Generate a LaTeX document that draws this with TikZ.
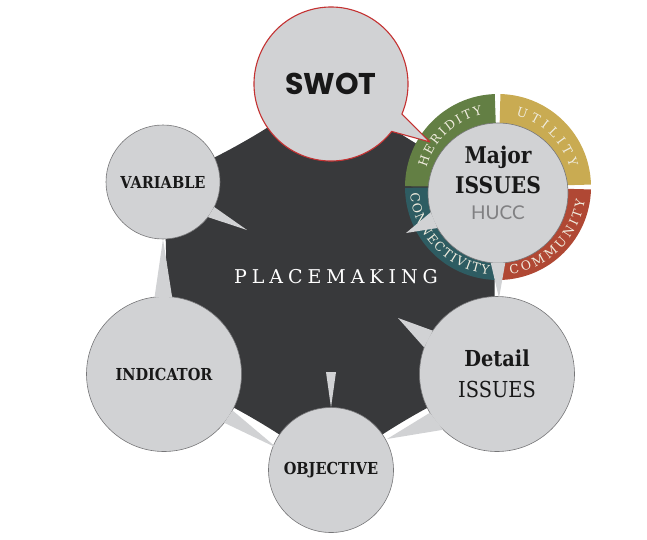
\documentclass[tikz,border=0pt]{standalone}
\usepackage{fontspec}
\setmainfont{DejaVu Serif}
\newfontfamily\slabfont[FakeStretch=0.88]{DejaVu Serif}
\newfontfamily\placefont[LetterSpace=26]{DejaVu Serif}
\newfontfamily\geofont{Poppins}
\newfontfamily\thinfont{Lato}
\usetikzlibrary{calc, positioning, decorations.text}
\definecolor{hexdark}{RGB}{56,57,59}
\definecolor{bubblegray}{RGB}{209,210,212}
\definecolor{rimgray}{RGB}{118,118,120}
\definecolor{swotred}{RGB}{196,50,50}
\definecolor{ringgreen}{RGB}{99,127,68}
\definecolor{ringyellow}{RGB}{201,171,82}
\definecolor{ringred}{RGB}{176,72,52}
\definecolor{ringteal}{RGB}{46,92,98}
\definecolor{ringtext}{RGB}{240,236,222}
\definecolor{huccgray}{RGB}{128,128,130}
\definecolor{inkblack}{RGB}{24,24,24}
\newcommand\ringfont{\fontsize{12.5}{12.5}\selectfont\color{ringtext}}
\tikzset{
  bubble/.style={circle,fill=bubblegray,draw=rimgray,line width=0.6pt,inner sep=0pt,outer sep=0pt,
    text=inkblack,font=\slabfont\bfseries\fontsize{16.5}{19}\selectfont},
  tail/.style={fill=bubblegray},
  swotrim/.style={fill=bubblegray,draw=swotred,line width=1.1pt,line join=round},
  ringlabel/.style={decorate,decoration={text along path,text align={fit to path},text={|\ringfont|#1}}}
}

\begin{document}
\begin{tikzpicture}[x=1pt,y=1pt]
  \useasboundingbox (0,0) rectangle (647,-539);
  \coordinate (cvar) at (163,-182);
  \coordinate (cswot) at (331,-84);
  \coordinate (cmajor) at (498,-193);
  \coordinate (cring) at (498,-187);
  \coordinate (cdet) at (497,-374);
  \coordinate (cobj) at (331,-470);
  \coordinate (cind) at (164,-374);
  \fill[hexdark] (cvar) to[bend right=6] (cswot) to[bend right=6] (cring) to[bend right=3] (cdet)
    to[bend right=6] (cobj) to[bend right=6] (cind) to[bend right=3] cycle;
  \fill[ringyellow] (cring) -- ++(1.5:93pt) arc[start angle=1.5, end angle=88.5, radius=93pt] -- cycle;
  \fill[ringgreen] (cring) -- ++(92:93pt) arc[start angle=92, end angle=179.5, radius=93pt] -- cycle;
  \fill[ringteal] (cring) -- ++(180.5:93pt) arc[start angle=180.5, end angle=268, radius=93pt] -- cycle;
  \fill[ringred] (cring) -- ++(272:93pt) arc[start angle=272, end angle=358.5, radius=93pt] -- cycle;
  \node[bubble, minimum size=140pt] (major) at (cmajor) {};
  \path[ringlabel={HERIDITY}] ($(cring)+(165:74pt)$) arc[start angle=165, end angle=102, radius=74pt];
  \path[ringlabel={UTILITY}] ($(cring)+(76:74pt)$) arc[start angle=76, end angle=15, radius=74pt];
  \path[ringlabel={COMMUNITY}] ($(cring)+(-82:88pt)$) arc[start angle=-82, end angle=-9, radius=88pt];
  \path[ringlabel={CONNECTIVITY}] ($(cring)+(184:88pt)$) arc[start angle=184, end angle=264, radius=88pt];
  \node[align=center, text=inkblack, font=\slabfont\bfseries\fontsize{23}{30}\selectfont] (majorlbl) at ($(cmajor)+(0,10.5)$)
    {Major\\ISSUES\\[-4pt]{\thinfont\mdseries\color{huccgray}\fontsize{19}{26}\selectfont HUCC}};
  \node[bubble, minimum size=114pt] (var) at (cvar) {VARIABLE};
  \node[bubble, minimum size=155pt] (ind) at (cind) {INDICATOR};
  \node[bubble, minimum size=125pt] (obj) at (cobj) {OBJECTIVE};
  \node[bubble, minimum size=155pt, align=center, font=\slabfont\fontsize{22}{31}\selectfont] (det) at (cdet)
    {{\bfseries Detail}\\ISSUES};
  \coordinate (vartip) at (247,-230);
  \coordinate (majortip) at (406,-233);
  \coordinate (majordown) at (499,-298);
  \coordinate (dettip) at (398,-318);
  \coordinate (detobj) at (387,-439);
  \coordinate (spikeL) at (326,-372);
  \coordinate (spikeR) at (336,-372);
  \coordinate (indobj) at (277,-448);
  \coordinate (swottip) at (430,-142);
  \fill[tail] (var.-26) -- (vartip) -- (var.-38) -- cycle;
  \fill[tail] (major.196) -- (majortip) -- (major.210) -- cycle;
  \fill[tail] (major.264) -- (majordown) -- (major.276) -- cycle;
  \fill[tail] (det.146) -- (dettip) -- (det.160) -- cycle;
  \fill[tail] (det.210) -- (detobj) -- (det.226) -- cycle;
  \fill[tail] (spikeL) -- (spikeR) -- (obj.north) -- cycle;
  \fill[tail] (ind.84) -- (var.south) -- (ind.97) -- cycle;
  \fill[tail] (ind.-28) -- (indobj) -- (ind.-39) -- cycle;
  \filldraw[swotrim] (swottip) -- ($(cswot)+(-23:77pt)$) arc[start angle=-23, end angle=322, radius=77pt] -- cycle;
  \node[text=inkblack, font=\geofont\bfseries\fontsize{30}{36}\selectfont] (swot) at (cswot) {SWOT};
  \node[text=white, font=\placefont\fontsize{19}{21}\selectfont] (place) at (336,-277) {PLACEMAKING};
\end{tikzpicture}
\end{document}
